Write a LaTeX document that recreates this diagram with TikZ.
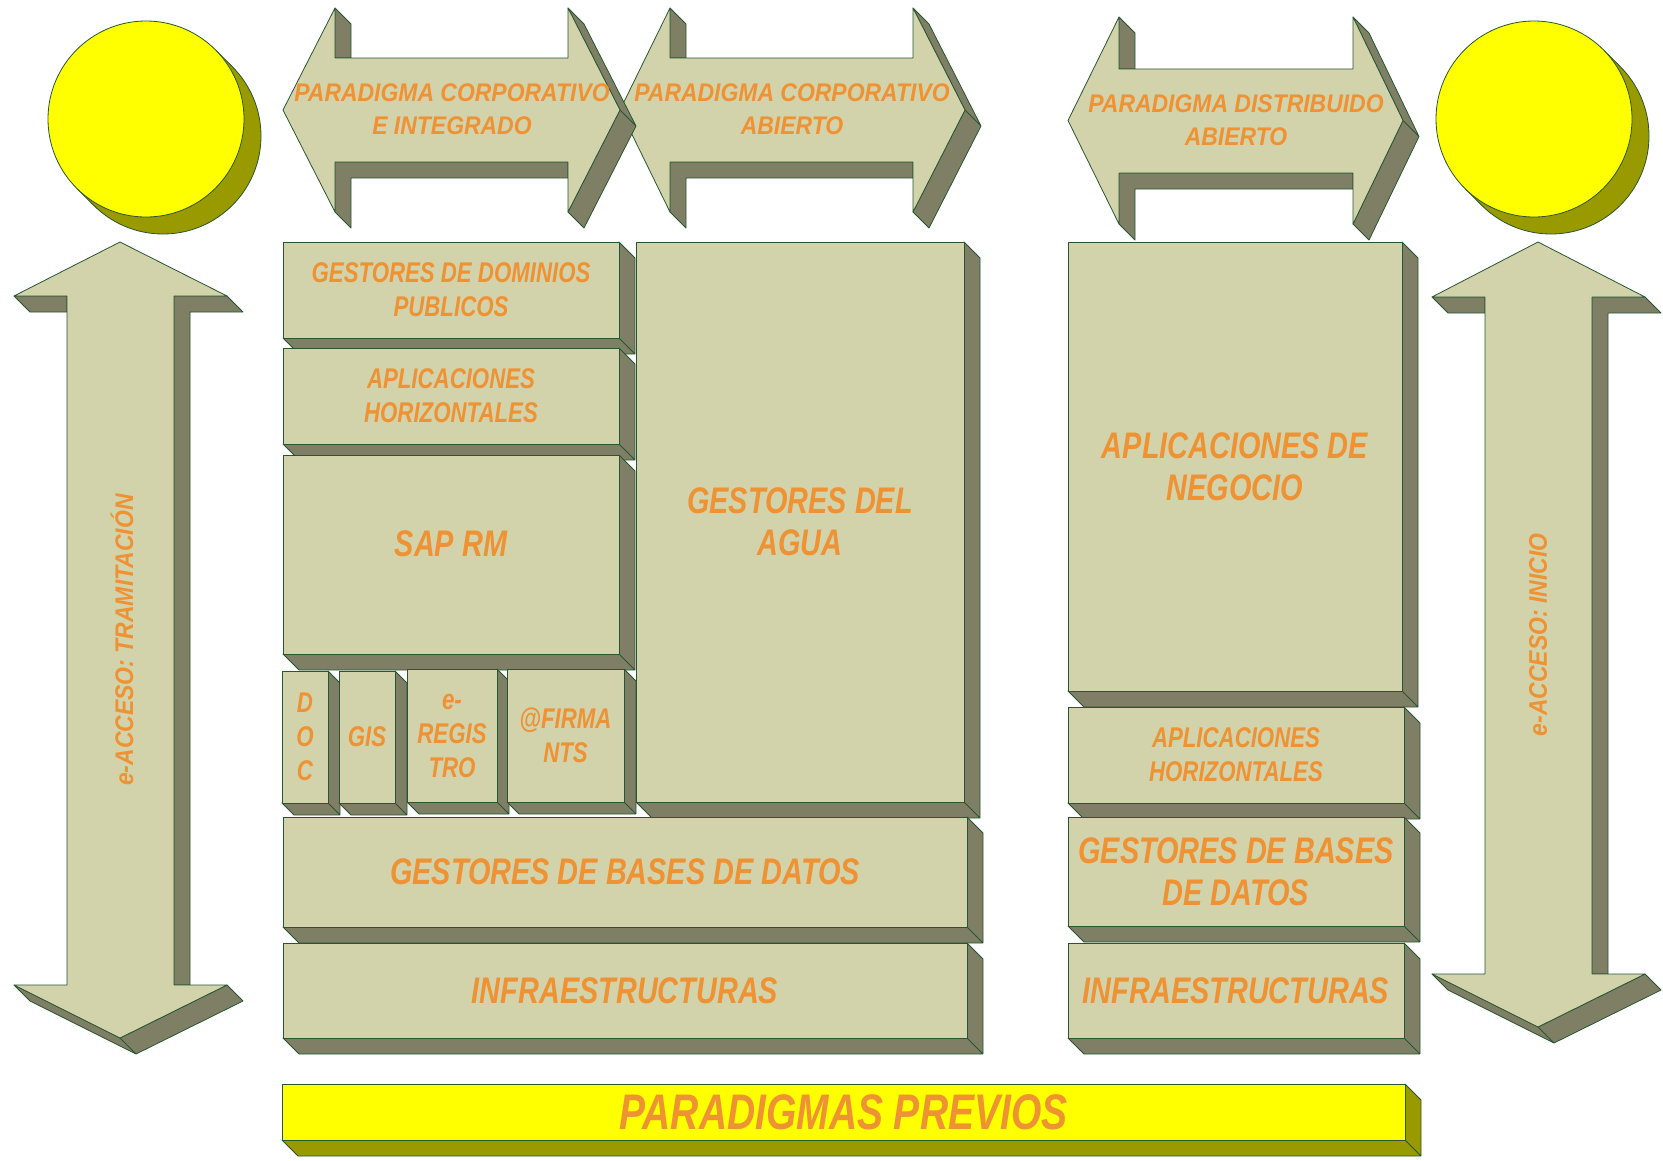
\documentclass[tikz,border=0pt]{standalone}
\usepackage{fontspec}
\newfontfamily\narrowsf[FakeStretch=0.78]{Liberation Sans}
\newfontfamily\widesf[FakeStretch=0.9]{Liberation Sans}
\usepackage{tikz}
\usetikzlibrary{calc}
\pgfdeclarelayer{back}
\pgfsetlayers{back,main}

\definecolor{facecol}{RGB}{210,211,170}
\definecolor{sidecol}{RGB}{127,127,102}
\definecolor{edgecol}{RGB}{40,85,50}
\definecolor{labelcol}{RGB}{238,146,52}
\definecolor{suncol}{RGB}{255,255,0}
\definecolor{sunside}{RGB}{153,153,0}

% double arrow, horizontal: xl, xh1, xh2, xr, yt, ys1, ys2, yb
\newcommand{\hdarrow}[8]{%
  \draw[side] (#2,#5) -- (#2+16,#5+16) -- (#2+16,#6) -- (#2,#6) -- cycle;
  \draw[side] (#2,#7) -- (#3,#7) -- (#3,#7+16) -- (#2+16,#7+16) -- (#2+16,#8+16) -- (#2,#8) -- cycle;
  \draw[side] (#3,#5) -- (#3+16,#5+16) -- (#4+16,{(#5+#8)/2+16}) -- (#3+16,#8+16) -- (#3,#8) -- (#4,{(#5+#8)/2}) -- cycle
    (#4,{(#5+#8)/2}) -- ++(16,16);
  \draw[face] (#1,{(#5+#8)/2}) -- (#2,#5) -- (#2,#6) -- (#3,#6) -- (#3,#5) -- (#4,{(#5+#8)/2})
    -- (#3,#8) -- (#3,#7) -- (#2,#7) -- (#2,#8) -- cycle;}

% double arrow, vertical: xc, xwl, xsl, xsr, xwr, yt, yw1, yw2, yb
\newcommand{\vdarrow}[9]{%
  \draw[side] (#4,#7) -- (#5,#7) -- (#5+16,#7+16) -- (#4+16,#7+16) -- (#4+16,#8) -- (#4,#8) -- cycle;
  \draw[side] (#2,#7) -- (#3,#7) -- (#3,#7+16) -- (#2+16,#7+16) -- cycle;
  \draw[side] (#2,#8) -- (#1,#9) -- (#5,#8) -- (#5+16,#8+16) -- (#1+16,#9+16) -- (#2+16,#8+16) -- cycle
    (#1,#9) -- ++(16,16);
  \draw[face] (#1,#6) -- (#5,#7) -- (#4,#7) -- (#4,#8) -- (#5,#8) -- (#1,#9) -- (#2,#8) -- (#3,#8)
    -- (#3,#7) -- (#2,#7) -- cycle;}

\begin{document}
\begin{tikzpicture}[x=1pt, y=-1pt,
  face/.style={fill=facecol, draw=edgecol, line width=0.8pt, line join=round},
  side/.style={fill=sidecol, draw=edgecol, line width=0.8pt, line join=round},
  slab/.style={face, anchor=north west, inner sep=0pt, outer sep=0pt, text=labelcol, align=center},
  big/.style={font=\narrowsf\bfseries\itshape\fontsize{37}{42.4}\selectfont},
  small/.style={font=\narrowsf\bfseries\itshape\fontsize{28.5}{34}\selectfont},
  tag/.style={text=labelcol, align=center, font=\widesf\bfseries\itshape\fontsize{25.5}{33}\selectfont},
  sun/.style={circle, minimum size=196, inner sep=0pt, draw=edgecol, line width=0.8pt}]
  \useasboundingbox (0,0) rectangle (1663,1160);

  % Suns
  \node[sun, fill=sunside] (sunls) at (163,136) {};
  \fill[sunside] (215.3,49.7) -- (232.3,66.7) -- (93.7,205.3) -- (76.7,188.3) -- cycle;
  \draw[edgecol, line width=0.8pt] (215.3,49.7) -- (232.3,66.7) (76.7,188.3) -- (93.7,205.3);
  \node[sun, fill=suncol] (sunl) at (146,119) {};

  \node[sun, fill=sunside] (sunrs) at (1551,136) {};
  \fill[sunside] (1603.3,49.7) -- (1620.3,66.7) -- (1481.7,205.3) -- (1464.7,188.3) -- cycle;
  \draw[edgecol, line width=0.8pt] (1603.3,49.7) -- (1620.3,66.7) (1464.7,188.3) -- (1481.7,205.3);
  \node[sun, fill=suncol] (sunr) at (1534,119) {};

  % Paradigm arrows
  \hdarrow{620}{670}{913}{965}{8}{58}{162}{212}
  \hdarrow{283}{335}{568}{620}{8}{58}{162}{212}
  \hdarrow{1068}{1119}{1353}{1403}{17}{69}{173}{224}
  \node[tag] (pci) at (452,109) {PARADIGMA CORPORATIVO\\E INTEGRADO};
  \node[tag] (pca) at (792,109) {PARADIGMA CORPORATIVO\\ABIERTO};
  \node[tag] (pda) at (1236,120) {PARADIGMA DISTRIBUIDO\\ABIERTO};

  % Access arrows
  \vdarrow{120}{14}{67}{174}{227}{242}{296}{985}{1038}
  \vdarrow{1538}{1432}{1485}{1592}{1645}{242}{297}{974}{1027}
  \node[tag, rotate=90] (acct) at (122,640) {e-ACCESO: TRAMITACIÓN};
  \node[tag, rotate=90] (acci) at (1538,635) {e-ACCESO: INICIO};

  % Corporate stack
  \node[slab, small, minimum width=336, minimum height=96] (gdp) at (283,242) {GESTORES DE DOMINIOS\\PUBLICOS};
  \node[slab, small, minimum width=336, minimum height=96] (ahl) at (283,348) {APLICACIONES\\HORIZONTALES};
  \node[slab, big, minimum width=336, minimum height=199] (sap) at (283,455) {\raisebox{22pt}{SAP RM}};
  \node[slab, small, minimum width=46, minimum height=132] (doc) at (282,671) {D\\O\\C};
  \node[slab, small, minimum width=56, minimum height=132] (gis) at (339,671) {GIS};
  \node[slab, small, minimum width=90, minimum height=133] (reg) at (407,669) {e-\\REGIS\\TRO};
  \node[slab, small, minimum width=117, minimum height=133] (fir) at (507,669) {@FIRMA\\NTS};
  \node[slab, big, minimum width=328, minimum height=560] (agua) at (636,242) {GESTORES DEL\\AGUA};
  \node[slab, big, minimum width=684, minimum height=110] (gbdl) at (283,817) {GESTORES DE BASES DE DATOS};
  \node[slab, big, minimum width=684, minimum height=95] (infl) at (283,943) {INFRAESTRUCTURAS};

  % Distributed stack
  \node[slab, big, minimum width=334, minimum height=449] (adn) at (1068,242) {APLICACIONES DE\\NEGOCIO};
  \node[slab, small, minimum width=336, minimum height=96] (ahr) at (1068,707) {APLICACIONES\\HORIZONTALES};
  \node[slab, big, minimum width=336, minimum height=109] (gbdr) at (1068,817) {GESTORES DE BASES\\DE DATOS};
  \node[slab, big, minimum width=336, minimum height=95] (infr) at (1068,943) {INFRAESTRUCTURAS};

  % Previous paradigms
  \node[slab, fill=suncol, minimum width=1123, minimum height=56,
    font=\narrowsf\bfseries\itshape\fontsize{50}{50}\selectfont] (prev) at (282,1084) {PARADIGMAS PREVIOS};

  % Depth of the blocks
  \begin{pgfonlayer}{back}
    \foreach \n/\d in {gdp/16, ahl/16, sap/16, doc/12, gis/12, reg/12, fir/12, agua/16,
                       gbdl/16, infl/16, adn/16, ahr/16, gbdr/16, infr/16}
      \draw[side] (\n.north east) -- ++(\d,\d) -- ([shift={(\d,\d)}]\n.south east)
        -- ([shift={(\d,\d)}]\n.south west) -- (\n.south west) -- (\n.south east) -- cycle
        (\n.south east) -- ++(\d,\d);
    \draw[side, fill=sunside] (prev.north east) -- ++(16,16) -- ([shift={(16,16)}]prev.south east)
      -- ([shift={(16,16)}]prev.south west) -- (prev.south west) -- (prev.south east) -- cycle
      (prev.south east) -- ++(16,16);
  \end{pgfonlayer}
\end{tikzpicture}
\end{document}
